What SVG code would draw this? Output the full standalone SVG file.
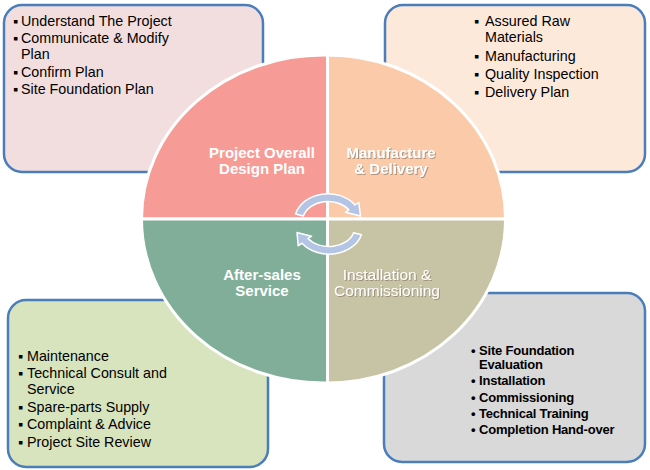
<svg xmlns="http://www.w3.org/2000/svg" width="650" height="470" viewBox="0 0 650 470">
<defs>
<style>
.box{stroke:#4A7EBB;stroke-width:2.5}
.li{font-family:"Liberation Sans",Arial,sans-serif;font-size:14.3px;fill:#000}
.lb{font-family:"Liberation Sans",Arial,sans-serif;font-size:13px;font-weight:bold;fill:#000;letter-spacing:-0.2px}
.q{stroke:#fff;stroke-width:3}
.ql{font-family:"Liberation Sans",Arial,sans-serif;font-size:15px;font-weight:bold;fill:#fff;text-anchor:middle}
.qs{filter:url(#sh)}
.arr{fill:#B4C4E4;stroke:#fff;stroke-width:1.5;stroke-linejoin:round}
</style>
<filter id="sh" x="-10%" y="-30%" width="120%" height="160%">
<feDropShadow dx="1" dy="1" stdDeviation="0.6" flood-color="#8a7a6a" flood-opacity="0.7"/>
</filter>
</defs>
<rect width="650" height="470" fill="#fff"/>

<g id="box-design">
<rect class="box" x="4" y="5" width="259" height="167" rx="18" fill="#F2DEDF"/>
<text class="li" x="13" y="26">▪</text><text class="li" x="21" y="26">Understand The Project</text>
<text class="li" x="13" y="43">▪</text><text class="li" x="21" y="43">Communicate &amp; Modify</text>
<text class="li" x="21" y="59">Plan</text>
<text class="li" x="13" y="77">▪</text><text class="li" x="21" y="77">Confirm Plan</text>
<text class="li" x="13" y="94">▪</text><text class="li" x="21" y="94">Site Foundation Plan</text>
</g>

<g id="box-manufacture">
<rect class="box" x="385" y="5" width="260" height="167" rx="18" fill="#FDE9DA"/>
<text class="li" x="474" y="26">▪</text><text class="li" x="485" y="26">Assured Raw</text>
<text class="li" x="485" y="42">Materials</text>
<text class="li" x="474" y="61">▪</text><text class="li" x="485" y="61">Manufacturing</text>
<text class="li" x="474" y="79">▪</text><text class="li" x="485" y="79">Quality Inspection</text>
<text class="li" x="474" y="97">▪</text><text class="li" x="485" y="97">Delivery Plan</text>
</g>

<g id="box-aftersales">
<rect class="box" x="8" y="300" width="260" height="167" rx="18" fill="#D8E4BE"/>
<text class="li" x="18" y="361">▪</text><text class="li" x="27" y="361">Maintenance</text>
<text class="li" x="18" y="378">▪</text><text class="li" x="27" y="378">Technical Consult and</text>
<text class="li" x="27" y="394">Service</text>
<text class="li" x="18" y="412">▪</text><text class="li" x="27" y="412">Spare-parts Supply</text>
<text class="li" x="18" y="429">▪</text><text class="li" x="27" y="429">Complaint &amp; Advice</text>
<text class="li" x="18" y="447">▪</text><text class="li" x="27" y="447">Project Site Review</text>
</g>

<g id="box-installation">
<rect class="box" x="384" y="293" width="261" height="169" rx="18" fill="#D9D9D9"/>
<text class="lb" x="471" y="355">•</text><text class="lb" x="479" y="355">Site Foundation</text>
<text class="lb" x="479" y="369">Evaluation</text>
<text class="lb" x="471" y="385">•</text><text class="lb" x="479" y="385">Installation</text>
<text class="lb" x="471" y="402">•</text><text class="lb" x="479" y="402">Commissioning</text>
<text class="lb" x="471" y="418">•</text><text class="lb" x="479" y="418">Technical Training</text>
<text class="lb" x="471" y="434">•</text><text class="lb" x="479" y="434">Completion Hand-over</text>
</g>

<g id="q-design">
<path class="q" d="M327.5 219 L141.5 219 A182 164 0 0 1 327.5 55 Z" fill="#F79B96"/>
<text class="ql" x="262" y="158">Project Overall</text>
<text class="ql" x="262" y="174">Design Plan</text>
</g>
<g id="q-manufacture">
<path class="q" d="M327.5 219 L327.5 55 A178 164 0 0 1 505.5 219 Z" fill="#FACAA9"/>
<text class="ql qs" x="391" y="158">Manufacture</text>
<text class="ql qs" x="391" y="174">&amp; Delivery</text>
</g>
<g id="q-aftersales">
<path class="q" d="M327.5 219 L327.5 383 A182 164 0 0 1 141.5 219 Z" fill="#80AE98"/>
<text class="ql" x="262" y="280">After-sales</text>
<text class="ql" x="262" y="296">Service</text>
</g>
<g id="q-installation">
<path class="q" d="M327.5 219 L505.5 219 A178 164 0 0 1 327.5 383 Z" fill="#C6C4A4"/>
<text class="ql qs" x="387" y="280" style="font-weight:normal;font-size:15.5px">Installation &amp;</text>
<text class="ql qs" x="387" y="296" style="font-weight:normal;font-size:15.5px">Commissioning</text>
</g>

<g id="connectors">
<path class="arr" d="M295.6 214 A33.5 27.5 0 0 1 355 205 L358.8 202.4 L360.5 216 L345.4 212.3 L348.9 209.8 A25.5 19.5 0 0 0 303.4 216 Z"/>
<path class="arr" d="M361.4 234.7 A33.5 26.5 0 0 1 302 243.2 L298.2 245.8 L297 232.5 L311.5 236.2 L308 238.6 A25.5 18.5 0 0 0 353.6 232.8 Z"/>
</g>
</svg>
